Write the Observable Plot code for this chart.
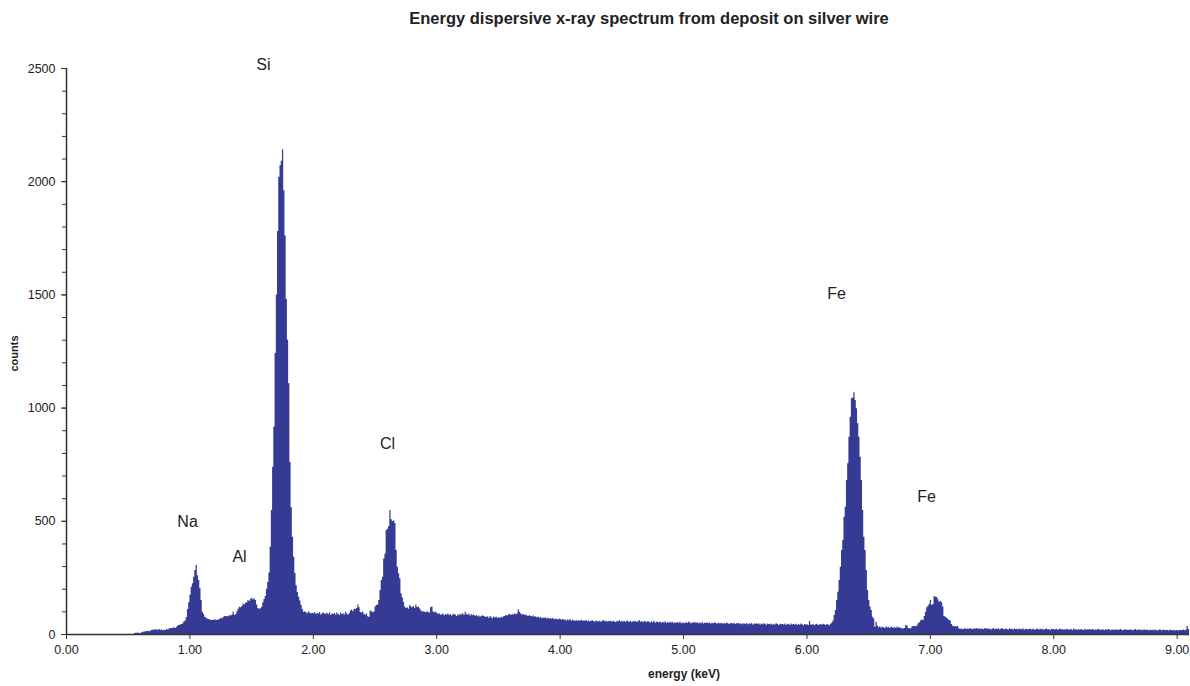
<!DOCTYPE html>
<html><head><meta charset="utf-8">
<script src="https://cdn.jsdelivr.net/npm/d3@7"></script>
<script src="https://cdn.jsdelivr.net/npm/@observablehq/plot@0.6"></script>
<style>
body{margin:0;background:#fff;font-family:"Liberation Sans",Arial,sans-serif;}
#title{position:relative;width:1190px;height:40px;}
#title span{position:absolute;left:649px;top:9px;transform:translateX(-50%);font-weight:bold;font-size:16.5px;line-height:18px;white-space:nowrap;color:#222}
</style></head><body>
<div id="title"><span>Energy dispersive x-ray spectrum from deposit on silver wire</span></div>
<div id="chart"></div>
<script>
// Spectrum: counts per 0.01 keV channel, starting at 0.00 keV (one row = 0.1 keV)
const startEnergy = 0;
const binWidth = 0.01;
const counts = [
  0,0,0,0,0,0,0,0,0,0,
  0,0,0,0,0,0,0,0,0,0,
  0,0,0,0,0,0,0,0,0,0,
  0,0,0,0,0,0,0,0,0,0,
  0,0,0,0,0,0,0,0,0,0,
  0,0,0,0,0,4,6,5,7,3,
  5,8,10,12,11,14,13,12,15,18,
  20,19,21,20,19,22,18,20,17,19,
  18,22,20,24,26,25,28,30,27,32,
  38,40,42,44,46,55,60,75,110,140,
  175,209,224,253,283,305,260,238,202,150,
  98,88,76,72,69,66,64,63,62,63,
  64,63,62,65,66,72,70,76,80,78,
  80,78,84,82,86,98,84,88,100,112,
  120,118,124,135,130,138,140,150,146,155,
  160,152,158,150,130,115,112,114,120,140,
  155,168,200,230,272,386,548,739,916,1241,
  1500,1780,2020,2070,2090,2141,1960,1760,1480,1300,
  1108,760,560,430,341,269,215,185,165,148,
  128,110,98,100,96,92,99,95,90,94,
  92,96,88,93,90,97,86,92,95,89,
  90,94,87,96,85,91,88,93,86,95,
  89,84,95,88,92,86,98,90,85,93,
  104,108,100,112,110,115,130,118,97,95,
  99,88,85,90,78,76,104,100,96,99,
  121,128,130,150,194,238,253,334,356,459,
  465,477,548,507,499,502,490,371,297,268,
  246,180,162,143,121,115,118,112,128,122,
  118,124,116,130,119,121,114,105,99,100,
  98,96,101,97,95,118,121,99,96,98,
  94,88,92,85,87,90,83,88,86,91,
  84,88,82,86,90,85,80,87,83,89,
  86,92,84,98,88,85,90,82,87,84,
  86,80,84,78,82,76,80,83,79,77,
  75,78,72,80,74,70,77,73,76,72,
  74,71,76,73,78,80,84,82,86,88,
  84,88,86,90,87,92,109,98,90,86,
  88,84,86,82,80,84,79,78,82,76,
  78,74,77,72,75,70,73,71,74,69,
  72,68,70,67,71,65,69,66,64,68,
  66,63,67,62,65,60,64,61,66,59,
  63,60,58,62,57,61,59,63,58,60,
  58,62,56,60,55,59,61,57,54,60,
  57,55,60,54,58,62,56,59,55,57,
  56,60,54,58,55,53,59,56,61,54,
  58,55,57,53,60,56,54,58,52,57,
  55,59,53,56,62,54,57,52,58,55,
  53,57,54,51,56,52,58,50,55,53,
  52,55,50,54,51,56,49,53,50,55,
  51,54,48,52,50,53,49,55,47,51,
  50,48,53,49,55,51,47,52,50,54,
  49,52,47,51,48,53,46,50,49,52,
  48,51,46,50,47,52,49,45,50,48,
  47,50,45,49,46,51,48,44,49,47,
  46,49,44,48,50,45,47,43,48,46,
  45,48,43,47,44,49,42,46,45,48,
  44,47,42,46,43,48,45,41,46,44,
  43,46,41,45,42,47,44,40,45,43,
  44,42,46,40,45,43,41,46,42,44,
  42,45,40,44,41,46,43,39,44,42,
  43,40,57,42,41,44,39,43,45,40,
  42,44,41,45,43,40,44,42,39,45,
  50,60,84,106,150,187,238,297,371,415,
  518,562,680,754,871,960,1041,1045,1068,1034,
  997,931,871,783,680,548,430,371,283,194,
  150,121,106,76,69,32,54,38,30,34,
  28,32,30,26,34,29,31,27,33,30,
  28,31,26,33,29,30,27,25,24,26,
  40,38,25,26,24,33,35,36,34,38,
  48,52,60,64,62,80,98,118,125,132,
  150,128,132,168,165,163,153,143,146,140,
  121,80,76,72,69,62,60,44,36,34,
  35,33,36,25,22,24,21,23,25,22,
  24,22,26,23,21,25,22,27,24,23,
  25,22,24,21,26,23,25,22,24,20,
  23,26,21,24,22,25,20,23,26,22,
  21,24,22,19,25,22,23,20,24,22,
  23,20,24,22,21,25,19,23,22,20,
  22,24,20,23,21,19,24,22,20,23,
  21,23,19,22,24,20,22,18,23,21,
  22,20,23,19,21,24,20,22,19,21,
  20,23,19,21,22,18,24,20,21,19,
  21,19,22,20,18,23,19,21,20,22,
  19,22,20,18,21,19,23,20,18,21,
  20,18,21,19,22,20,17,21,19,20,
  19,21,18,20,22,19,17,20,21,18,
  20,18,21,19,17,20,22,18,19,21,
  18,20,17,21,19,18,20,16,19,18,
  19,17,20,18,16,19,21,17,18,20,
  17,19,18,16,20,18,17,19,16,18,
  18,16,19,17,18,20,17,19,35,22
];

// Element annotations
const elements = ["Si", "Na", "Al", "Cl", "Fe", "Fe"];
const elementEnergy = [1.596, 0.981, 1.402, 2.601, 6.240, 6.969];
const elementCount = [2518, 499, 345, 843, 1506, 608];

// Axis ticks
const xTicks = [0, 1, 2, 3, 4, 5, 6, 7, 8, 9];
const yMajorTicks = [0, 500, 1000, 1500, 2000, 2500];
const yMinorTicks = d3.range(0, 2501, 100);

const spectrum = counts.map((c, i) => ({energy: +(startEnergy + i * binWidth).toFixed(2), count: c}));
spectrum.push({energy: +(startEnergy + counts.length * binWidth).toFixed(2), count: counts[counts.length - 1]});
const labels = elements.map((e, i) => ({element: e, energy: elementEnergy[i], count: elementCount[i]}));

const chart = Plot.plot({
  width: 1190, height: 646,
  marginLeft: 66, marginRight: 1, marginTop: 28, marginBottom: 52,
  style: {fontFamily: "'Liberation Sans', Arial, sans-serif", fontSize: "12.5px", color: "#222", background: "#fff"},
  x: {domain: [0, 9.1]},
  y: {domain: [0, 2500]},
  marks: [
    Plot.areaY(spectrum, {x: "energy", y: "count", curve: "step-after", fill: "#353b95"}),
    Plot.axisY({ticks: yMinorTicks, tickSize: 4, tickFormat: () => "", stroke: "#333", label: null}),
    Plot.axisY({ticks: yMajorTicks, tickSize: 5, tickPadding: 6, tickFormat: d => String(d), stroke: "#333", fill: "#222", label: null}),
    Plot.axisX({ticks: xTicks, tickSize: 5, tickPadding: 6, tickFormat: d3.format(".2f"), stroke: "#333", fill: "#222", label: null}),
    Plot.ruleY([0], {stroke: "#333", strokeWidth: 1.5}),
    Plot.ruleX([0], {stroke: "#333", strokeWidth: 1.5}),
    Plot.text(["counts"], {frameAnchor: "left", dx: -52, dy: 20, rotate: -90, fontWeight: "bold", fontSize: 11, fill: "#222"}),
    Plot.text(["energy (keV)"], {frameAnchor: "bottom", dx: 56, dy: 43, fontWeight: "bold", fontSize: 12, fill: "#222"}),
    Plot.text(labels, {x: "energy", y: "count", text: "element", fontSize: 16, fill: "#222"})
  ]
});
document.getElementById("chart").append(chart);
</script>
</body></html>
